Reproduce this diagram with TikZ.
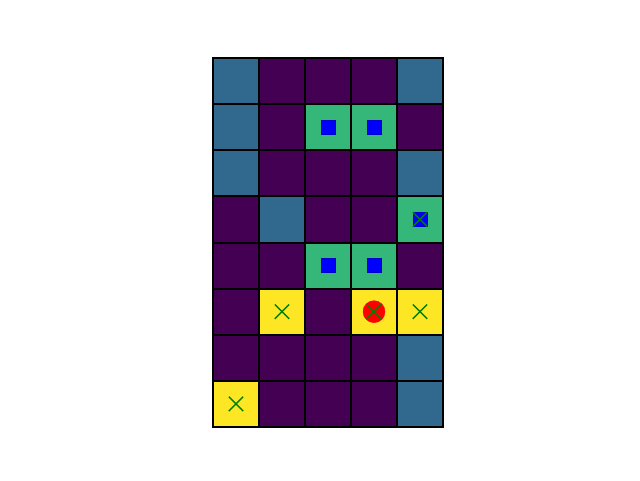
\documentclass[tikz,border=0pt]{standalone}
\definecolor{vpurple}{HTML}{440154}
\definecolor{vteal}{HTML}{31688E}
\definecolor{vgreen}{HTML}{35B779}
\definecolor{vyellow}{HTML}{FDE725}
\definecolor{mgreen}{HTML}{008000}
\tikzset{
  cellbox/.style={draw=black,line width=2pt,minimum width=46pt,minimum height=46.125pt,inner sep=0pt,outer sep=0pt},
  sqmark/.style={fill=blue,draw=blue!80!black,line width=0.4pt,minimum size=14pt,inner sep=0pt},
  circmark/.style={circle,fill=red,draw=red,minimum size=22pt,inner sep=0pt},
  xmark/.style={minimum size=14pt,inner sep=0pt},
}
\begin{document}
\begin{tikzpicture}[x=1pt,y=-1pt]
\useasboundingbox (0,0) rectangle (640,480);
\fill[white] (0,0) rectangle (640,480);
\foreach \r/\row in {0/{vteal,vpurple,vpurple,vpurple,vteal},
                     1/{vteal,vpurple,vgreen,vgreen,vpurple},
                     2/{vteal,vpurple,vpurple,vpurple,vteal},
                     3/{vpurple,vteal,vpurple,vpurple,vgreen},
                     4/{vpurple,vpurple,vgreen,vgreen,vpurple},
                     5/{vpurple,vyellow,vpurple,vyellow,vyellow},
                     6/{vpurple,vpurple,vpurple,vpurple,vteal},
                     7/{vyellow,vpurple,vpurple,vpurple,vteal}}{
  \foreach \col [count=\c from 0] in \row {
    \node[cellbox,fill=\col] (cell-\c-\r) at ({236+46*\c},{81.06+46.125*\r}) {};
  }
}
% squares
\foreach \c/\r in {2/1,3/1,4/3,2/4,3/4}{
  \node[sqmark] (sq-\c-\r) at (cell-\c-\r.center) {};
}
% red circle
\node[circmark] (circ-3-5) at (cell-3-5.center) {};
% x markers
\foreach \c/\r in {4/3,1/5,3/5,4/5,0/7}{
  \node[xmark] (x-\c-\r) at (cell-\c-\r.center) {};
  \draw[mgreen,line width=1.4pt] (x-\c-\r.south west) -- (x-\c-\r.north east);
  \draw[mgreen,line width=1.4pt] (x-\c-\r.north west) -- (x-\c-\r.south east);
}
\end{tikzpicture}
\end{document}
